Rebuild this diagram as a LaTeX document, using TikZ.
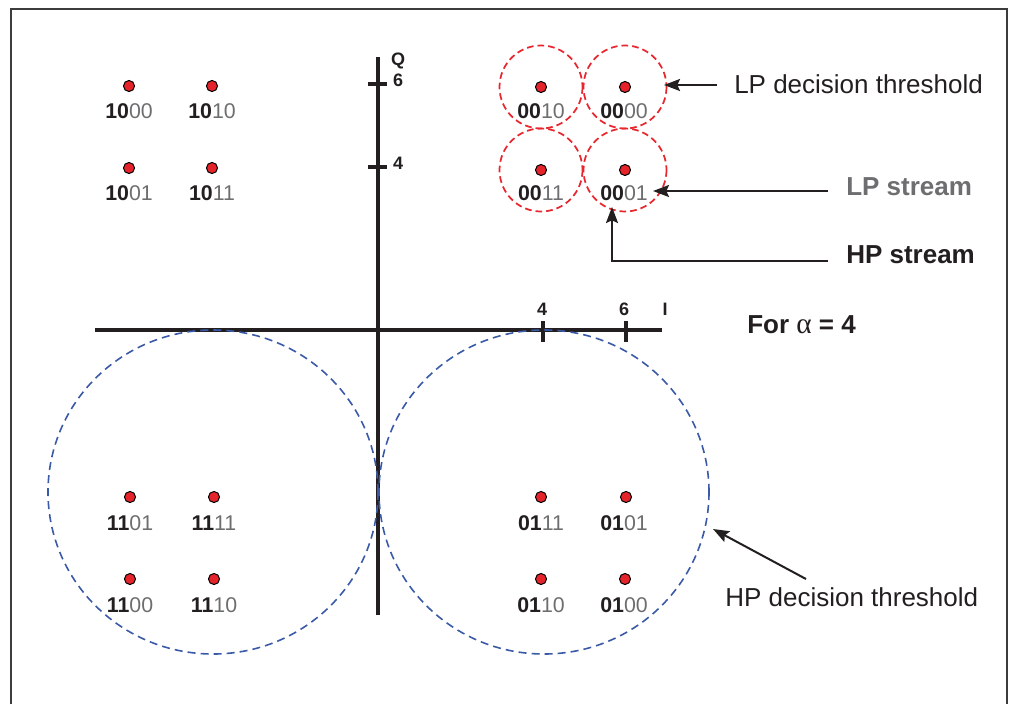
\documentclass[tikz,border=0pt]{standalone}
\usepackage{fontspec}
\setmainfont{Liberation Sans}
\newfontfamily\greekfont{Liberation Serif}
\usetikzlibrary{arrows.meta}
\definecolor{dotred}{HTML}{E5232B}
\definecolor{thrred}{HTML}{E8262E}
\definecolor{thrblue}{HTML}{3A5AA8}
\definecolor{lpgray}{HTML}{6E6E70}
\definecolor{inkblack}{HTML}{231F20}
\definecolor{framegray}{HTML}{3C3C3C}
\newcommand\ptlab[2]{{\bfseries #1}{\color{lpgray}#2}}
\begin{document}
\begin{tikzpicture}[x=0.75pt,y=-0.75pt,
  dot/.style={circle,fill=dotred,draw=black,line width=0.75pt,minimum size=8.3pt,inner sep=0pt},
  lab/.style={anchor=base,inner sep=0pt,text=inkblack,font=\fontsize{16}{19}\selectfont},
  axlab/.style={anchor=base,inner sep=0pt,text=inkblack,font=\fontsize{13.5}{16}\selectfont\bfseries},
  big/.style={anchor=base west,inner sep=0pt,text=inkblack,font=\fontsize{19.5}{22}\selectfont},
  axis/.style={line width=2.3pt,draw=inkblack},
  redc/.style={draw=thrred,line width=1.3pt,dash pattern=on 5pt off 3pt},
  bluec/.style={draw=thrblue,line width=1.2pt,dash pattern=on 6pt off 3.8pt},
  arr/.style={line width=1.5pt,draw=inkblack,-{Stealth[length=12pt,width=9pt,inset=2pt]}}
]
\useasboundingbox (0,0) rectangle (1016,704);
% frame
\draw[framegray,line width=1.1pt] (11,704) -- (11,9) -- (1007,9) -- (1007,704);

% axes
\coordinate (qtop) at (378,57);
\coordinate (qbot) at (378,615);
\coordinate (ileft) at (95,330);
\coordinate (iright) at (662,330);
\draw[axis] (qbot) -- (qtop);
\draw[axis] (ileft) -- (iright);
% ticks
\coordinate (tq6a) at (368,84); \coordinate (tq6b) at (387,84);
\coordinate (tq4a) at (368,167); \coordinate (tq4b) at (387,167);
\coordinate (ti4a) at (543,321); \coordinate (ti4b) at (543,342);
\coordinate (ti6a) at (626,321); \coordinate (ti6b) at (626,342);
\draw[axis] (tq6a) -- (tq6b);
\draw[axis] (tq4a) -- (tq4b);
\draw[axis] (ti4a) -- (ti4b);
\draw[axis] (ti6a) -- (ti6b);
\node[axlab] (lq) at (398,65) {Q};
\node[axlab] (lq6) at (398,86) {6};
\node[axlab] (lq4) at (398,169) {4};
\node[axlab] (li4) at (542,315) {4};
\node[axlab] (li6) at (624,315) {6};
\node[axlab] (li) at (665,315) {I};

% blue HP threshold circles
\coordinate (hpcL) at (213,492);
\coordinate (hpcR) at (544,492);
\draw[bluec] (hpcL) ellipse[x radius=165,y radius=162];
\draw[bluec] (hpcR) ellipse[x radius=165,y radius=162];

% red LP threshold circles
\coordinate (c0010) at (541,87);
\coordinate (c0000) at (625,87);
\coordinate (c0011) at (541,170);
\coordinate (c0001) at (625,170);
\draw[redc] (c0010) circle[radius=41.5];
\draw[redc] (c0000) circle[radius=41.5];
\draw[redc] (c0011) circle[radius=41.5];
\draw[redc] (c0001) circle[radius=41.5];

% points: top-left
\node[dot] (p1000) at (129,86) {};
\node[dot] (p1010) at (212,86) {};
\node[dot] (p1001) at (129,168) {};
\node[dot] (p1011) at (212,168) {};
\node[lab] (l1000) at (129,118) {\ptlab{10}{00}};
\node[lab] (l1010) at (212,118) {\ptlab{10}{10}};
\node[lab] (l1001) at (129,200) {\ptlab{10}{01}};
\node[lab] (l1011) at (212,200) {\ptlab{10}{11}};
% top-right
\node[dot] (p0010) at (c0010) {};
\node[dot] (p0000) at (c0000) {};
\node[dot] (p0011) at (c0011) {};
\node[dot] (p0001) at (c0001) {};
\node[lab] (l0010) at (541,118) {\ptlab{00}{10}};
\node[lab] (l0000) at (624,118) {\ptlab{00}{00}};
\node[lab] (l0011) at (541,200) {\ptlab{00}{11}};
\node[lab] (l0001) at (624,200) {\ptlab{00}{01}};
% bottom-left
\node[dot] (p1101) at (130,497) {};
\node[dot] (p1111) at (214,497) {};
\node[dot] (p1100) at (130,579) {};
\node[dot] (p1110) at (214,579) {};
\node[lab] (l1101) at (130,530) {\ptlab{11}{01}};
\node[lab] (l1111) at (214,530) {\ptlab{11}{11}};
\node[lab] (l1100) at (130,612) {\ptlab{11}{00}};
\node[lab] (l1110) at (214,612) {\ptlab{11}{10}};
% bottom-right
\node[dot] (p0111) at (541,497) {};
\node[dot] (p0101) at (626,497) {};
\node[dot] (p0110) at (541,579) {};
\node[dot] (p0100) at (625,579) {};
\node[lab] (l0111) at (541,530) {\ptlab{01}{11}};
\node[lab] (l0101) at (624,530) {\ptlab{01}{01}};
\node[lab] (l0110) at (541,612) {\ptlab{01}{10}};
\node[lab] (l0100) at (624,612) {\ptlab{01}{00}};

% annotation texts
\node[big] (tlpd) at (734,93) {LP decision threshold};
\node[big,text=lpgray,font=\fontsize{19.5}{22}\selectfont\bfseries] (tlps) at (846,195) {LP stream};
\node[big,font=\fontsize{19.5}{22}\selectfont\bfseries] (thps) at (846,263) {HP stream};
\node[big,font=\fontsize{19.5}{22}\selectfont\bfseries] (talpha) at (747,333) {For {\mdseries\greekfont\fontsize{22}{24}\selectfont α} = 4};
\node[big] (thpd) at (725,606) {HP decision threshold};

% arrows
\coordinate (a1s) at (717,85);  \coordinate (a1e) at (664,85);
\coordinate (a2s) at (828,191); \coordinate (a2e) at (653,191);
\coordinate (a3s) at (828,261); \coordinate (a3e) at (612,207);
\coordinate (a4s) at (806,579); \coordinate (a4e) at (713,529);
\draw[arr] (a1s) -- (a1e);
\draw[arr] (a2s) -- (a2e);
\draw[arr] (a3s) -| (a3e);
\draw[arr] (a4s) -- (a4e);
\end{tikzpicture}
\end{document}
